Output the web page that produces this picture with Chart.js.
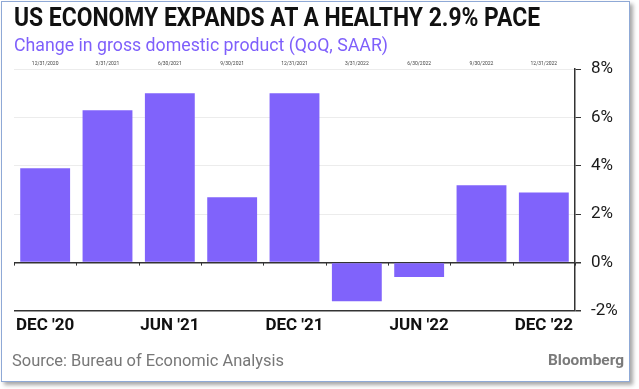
<!DOCTYPE html>
<html>
<head>
<meta charset="utf-8">
<script src="https://cdn.jsdelivr.net/npm/chart.js@4.4.1/dist/chart.umd.min.js"></script>
<style>
  html, body { margin: 0; padding: 0; background: #fff; }
  body { width: 639px; height: 389px; position: relative; overflow: hidden; font-family: Roboto, "DejaVu Sans", sans-serif; }
  #frame { position: absolute; left: 1px; top: 1px; width: 627px; height: 379px; border: 1px solid #8fa9d6; box-shadow: 3px 3px 4px rgba(0,0,0,0.35); background: #fff; }
  #chart { position: absolute; left: 0; top: 0; }
  .txt { position: absolute; white-space: nowrap; transform-origin: 0 0; }
  #title { left: 14px; top: 2px; font-weight: bold; font-size: 26px; color: #111; }
  #subtitle { left: 14px; top: 33px; font-size: 19px; color: #7e5ffb; }
  #source { left: 12px; top: 350px; font-size: 17px; color: #777; }
  #brand { left: 548px; top: 351px; font-weight: bold; font-size: 15px; color: #7a7a7a; }
</style>
</head>
<body>
<div id="frame"></div>
<canvas id="chart" width="639" height="389"></canvas>
<div class="txt" id="title" data-w="526">US ECONOMY EXPANDS AT A HEALTHY 2.9% PACE</div>
<div class="txt" id="subtitle" data-w="374">Change in gross domestic product (QoQ, SAAR)</div>
<div class="txt" id="source" data-w="272">Source: Bureau of Economic Analysis</div>
<div class="txt" id="brand" data-w="76">Bloomberg</div>
<script>
// quarters shown, top date labels and bottom tick labels
const quarters = ["12/31/2020", "3/31/2021", "6/30/2021", "9/30/2021", "12/31/2021",
                  "3/31/2022", "6/30/2022", "9/30/2022", "12/31/2022"];
const bottomLabels = ["DEC '20", "", "JUN '21", "", "DEC '21", "", "JUN '22", "", "DEC '22"];
// GDP change, QoQ SAAR (%)
const gdpChange = [3.9, 6.3, 7.0, 2.7, 7.0, -1.6, -0.6, 3.2, 2.9];

const purple = "#8063fb";

// squeeze the text blocks to the width they take in the picture
document.querySelectorAll(".txt").forEach(el => {
  const w = el.getBoundingClientRect().width;
  el.style.transform = `scaleX(${el.dataset.w / w})`;
});

// little ticks along the zero line at each quarter boundary
const zeroTicks = {
  id: "zeroTicks",
  afterDatasetsDraw(chart) {
    const { ctx, scales: { x, y } } = chart;
    const y0 = y.getPixelForValue(0);
    ctx.save();
    ctx.strokeStyle = "#333";
    ctx.lineWidth = 1;
    for (let i = 0; i <= quarters.length; i++) {
      const px = Math.round(x.getPixelForValue(i - 0.5)) + 0.5;
      ctx.beginPath();
      ctx.moveTo(px, y0);
      ctx.lineTo(px, y0 + 3);
      ctx.stroke();
    }
    ctx.restore();
  }
};

new Chart(document.getElementById("chart"), {
  type: "bar",
  data: {
    labels: quarters,
    datasets: [{
      data: gdpChange,
      backgroundColor: purple,
      borderWidth: 0,
      barPercentage: 0.8,
      categoryPercentage: 1.0
    }]
  },
  options: {
    responsive: false,
    animation: false,
    layout: { padding: { left: 14, right: 10, top: 56, bottom: 50 } },
    plugins: { legend: { display: false }, tooltip: { enabled: false } },
    scales: {
      x: {
        type: "category",
        offset: true,
        grid: { display: false, drawTicks: false },
        border: { display: false },
        ticks: {
          autoSkip: false,
          maxRotation: 0,
          padding: 5,
          color: "#111",
          font: { family: "Roboto", weight: "bold", size: 17 },
          callback: (v, i) => bottomLabels[i]
        },
        afterFit: s => { s.height = 28; }
      },
      x2: {
        type: "category",
        position: "top",
        labels: quarters,
        offset: true,
        grid: { display: false, drawTicks: false },
        border: { display: false },
        ticks: {
          autoSkip: false,
          maxRotation: 0,
          padding: 2,
          color: "#444",
          font: { family: "Roboto", size: 5 }
        },
        afterFit: s => { s.height = 13; }
      },
      y: {
        position: "right",
        min: -2,
        max: 8,
        ticks: {
          stepSize: 2,
          padding: 10,
          color: "#1a1a1a",
          font: { family: "Roboto", size: 17 },
          callback: v => v + "%"
        },
        grid: {
          color: c => (c.tick && (c.tick.value === 0 || c.tick.value === -2)) ? "#333" : "#ececec",
          lineWidth: c => (c.tick && (c.tick.value === 0 || c.tick.value === -2)) ? 1.5 : 1,
          tickColor: "#333",
          tickLength: 6
        },
        border: { color: "#333", width: 1.5 },
        afterFit: s => { s.width = 54; }
      }
    }
  },
  plugins: [zeroTicks]
});
</script>
</body>
</html>
